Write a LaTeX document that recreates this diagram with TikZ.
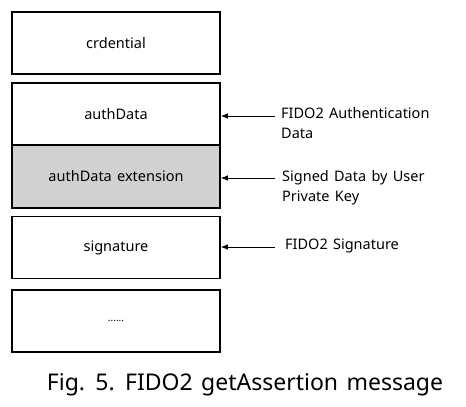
\documentclass[tikz,border=0pt]{standalone}
\usepackage{fontspec}
\setmainfont[WordSpace=1.4]{Noto Sans}
\usetikzlibrary{arrows.meta}
\definecolor{extgray}{RGB}{209,209,209}
\tikzstyle{field}=[draw, line width=1.6pt, minimum width=208pt, minimum height=62pt, inner sep=0pt, font=\fontsize{14.5}{17}\selectfont]
\tikzstyle{note}=[anchor=north west, align=left, inner sep=0pt, font=\fontsize{14.5}{20}\selectfont]
\tikzstyle{ptr}=[line width=0.9pt, -{Latex[length=7pt,width=5.5pt]}]

\begin{document}
\begin{tikzpicture}[x=1pt,y=-1pt]
            \useasboundingbox (0,0) rectangle (466,407);
            % Campos
            \node[field] (cred) at (116,43) {crdential};
            \node[field] (auth) at (116,114) {authData};
            \node[field, fill=extgray, minimum height=63pt] (ext) at (116,176.5) {authData extension};
            \node[field] (sig) at (116,247.5) {signature};
            \node[field] (more) at (116,321) {\fontsize{10}{12}\selectfont......};
            % Notas
            \node[note] (nauth) at (281,107) {FIDO2 Authentication\\Data};
            \node[note] (next) at (282,170) {Signed Data by User\\Private Key};
            \node[note] (nsig) at (285,239) {FIDO2 Signature};
            \coordinate (pauth) at (275,116);
            \coordinate (pext) at (275,178);
            \coordinate (psig) at (275,247);
            % Flechas
            \draw[ptr] (pauth) -- (auth.east |- pauth);
            \draw[ptr] (pext) -- (ext.east |- pext);
            \draw[ptr] (psig) -- (sig.east |- psig);
            % Pie
            \node[font=\fontsize{23}{27}\selectfont, inner sep=0pt] (cap) at (245,385) {Fig. 5. FIDO2 getAssertion message};
        \end{tikzpicture}
\end{document}
